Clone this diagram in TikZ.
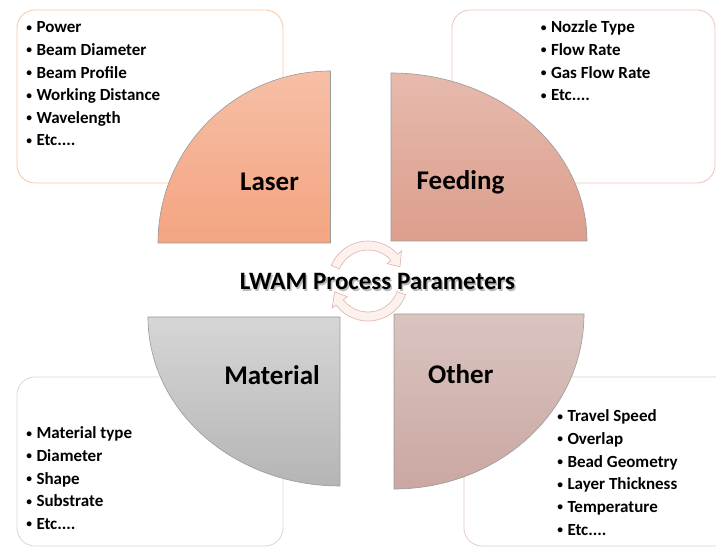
\documentclass[tikz,border=0pt]{standalone}
\usepackage{fontspec}
\usetikzlibrary{calc}
\setmainfont{Carlito}
\newcommand\etcdots{Etc....}
\newcommand\smallbul{\makebox[10.8pt][l]{\hspace{0.6pt}\raisebox{1.6pt}{\fontsize{11.5}{11.5}\selectfont•}}}
\definecolor{laserTop}{HTML}{F6BFA6}
\definecolor{laserBot}{HTML}{F4A480}
\definecolor{feedTop}{HTML}{E6BAAD}
\definecolor{feedBot}{HTML}{DC9E8C}
\definecolor{matTop}{HTML}{D6D6D6}
\definecolor{matBot}{HTML}{B5B5B5}
\definecolor{othTop}{HTML}{DAC4C0}
\definecolor{othBot}{HTML}{CAA7A2}
\definecolor{edgeGray}{HTML}{9A9A9A}
\definecolor{laserBox}{HTML}{F7C7A6}
\definecolor{feedBox}{HTML}{ECC5BB}
\definecolor{matBox}{HTML}{D9D9D9}
\definecolor{othBox}{HTML}{E5CCC8}
\definecolor{arrFill}{HTML}{FDF1EE}
\definecolor{arrEdge}{HTML}{DDB3AA}
\tikzset{
  listbox/.style={rounded corners=18pt, line width=0.8pt},
  quarter/.style={draw=edgeGray, line width=0.6pt},
  item/.style={anchor=base west, inner sep=0pt, font=\fontsize{17}{20}\selectfont\bfseries},
  biglabel/.style={anchor=base, inner sep=0pt, font=\fontsize{27}{32}\selectfont\bfseries},
  cycarrow/.style={fill=arrFill, draw=arrEdge, line width=0.6pt},
}
\begin{document}
\begin{tikzpicture}[x=1pt,y=1pt]
\clip (0,0) rectangle (716,547);
\fill[white] (0,0) rectangle (716,547);
% list boxes
\draw[listbox, draw=laserBox] (17,364) rectangle (283,537);
\draw[listbox, draw=feedBox] (452,364) rectangle (715,537);
\draw[listbox, draw=matBox] (17,1) rectangle (283,170);
\draw[listbox, draw=othBox] (464,1) rectangle (740,170);
% quarter shapes
\draw[quarter, top color=laserTop, bottom color=laserBot]
  (330.5,304) -- (330.5,476) arc[start angle=90, end angle=180, x radius=172.5, y radius=172] -- cycle;
\draw[quarter, top color=feedTop, bottom color=feedBot]
  (391,306) -- (391,474) arc[start angle=90, end angle=0, x radius=196, y radius=168] -- cycle;
\draw[quarter, top color=matTop, bottom color=matBot]
  (340,230) -- (148,230) arc[start angle=180, end angle=270, x radius=192, y radius=169] -- cycle;
\draw[quarter, top color=othTop, bottom color=othBot]
  (394,233) -- (584,233) arc[start angle=0, end angle=-90, x radius=190, y radius=175] -- cycle;
% labels
\node[biglabel] (laser) at (269.5,356.5) {Laser};
\node[biglabel] (feeding) at (460.5,357) {Feeding};
\node[biglabel] (material) at (272,162.5) {Material};
\node[biglabel] (other) at (460.7,163) {Other};
% circular arrows
\coordinate (cc) at (368,266);
\draw[cycarrow] ($(cc)+(157:40)$) arc[start angle=157, end angle=42, radius=40]
  -- ($(cc)+(42:45)$) -- ($(cc)+(24:35)$) -- ($(cc)+(42:26)$) -- ($(cc)+(42:31)$)
  arc[start angle=42, end angle=157, radius=31] -- cycle;
\draw[cycarrow] ($(cc)+(-20:40)$) arc[start angle=-20, end angle=-143, radius=40]
  -- ($(cc)+(-143:45)$) -- ($(cc)+(-162:35)$) -- ($(cc)+(-143:26)$) -- ($(cc)+(-143:31)$)
  arc[start angle=-143, end angle=-20, radius=31] -- cycle;
% title
\node[anchor=base, inner sep=0pt, font=\fontsize{25}{30}\selectfont\bfseries, text=black!45, opacity=0.6] (titleshadow) at (379,255.5) {LWAM Process Parameters};
\node[anchor=base, inner sep=0pt, font=\fontsize{25}{30}\selectfont\bfseries] (title) at (377.5,257) {LWAM Process Parameters};
% lists
\foreach \t [count=\i] in {Power, Beam Diameter, Beam Profile, Working Distance, Wavelength, \etcdots}
  \node[item] (las\i) at (25.5,{514-(\i-1)*22.6}) {\smallbul\t};
\foreach \t [count=\i] in {Nozzle Type, Flow Rate, Gas Flow Rate, \etcdots}
  \node[item] (fed\i) at (540,{514-(\i-1)*22.6}) {\smallbul\t};
\foreach \t [count=\i] in {Material type, Diameter, Shape, Substrate, \etcdots}
  \node[item] (mat\i) at (25.5,{108-(\i-1)*22.6}) {\smallbul\t};
\foreach \t [count=\i] in {Travel Speed, Overlap, Bead Geometry, Layer Thickness, Temperature, \etcdots}
  \node[item] (oth\i) at (556.5,{125-(\i-1)*22.6}) {\smallbul\t};
\end{tikzpicture}
\end{document}
